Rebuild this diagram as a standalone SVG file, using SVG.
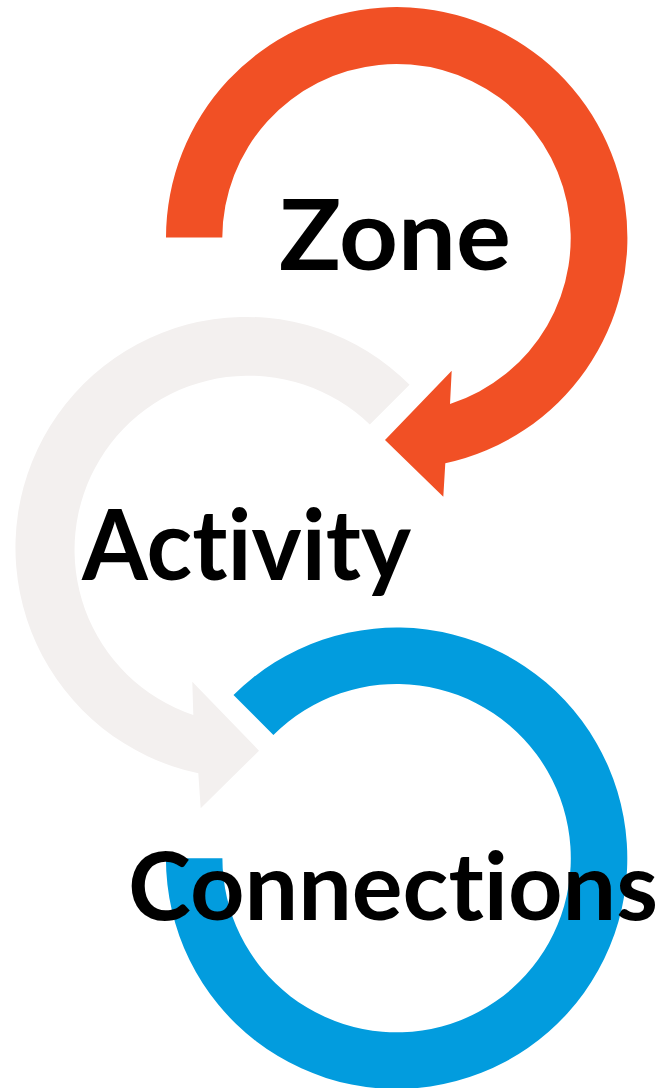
<svg xmlns="http://www.w3.org/2000/svg" width="670" height="1088" viewBox="0 0 670 1088">
<style>
.lbl{font-family:Lato,"Open Sans","Liberation Sans",sans-serif;font-weight:700;font-size:97px;fill:#000;font-variant-ligatures:none;font-feature-settings:"liga" 0,"clig" 0}
</style>
<rect width="670" height="1088" fill="#fff"/>
<g id="connectors">
<path id="arrow-zone" fill="#F15025" d="M166 237.5 A230.7 230.7 0 1 1 445.3 463.3 L443.3 496.7 L385 440 L451.7 370.7 L450 404 A174.2 174.2 0 1 0 222.3 237.5 Z"/>
<path id="arrow-activity" fill="#F3F0EF" d="M409.6 384.8 A230.7 230.7 0 1 0 198.3 773.3 L200.7 808.3 L259 750.7 L192.3 681.7 L193.3 715 A174.2 174.2 0 1 1 369.8 424.6 Z"/>
<path id="ring-connections" fill="#029CDE" d="M233.5 695.1 A230.7 230.7 0 1 1 165.9 858.2 L222.4 858.2 A174.2 174.2 0 1 0 273.4 735 Z"/>
</g>
<g id="node-zone"><text class="lbl" x="279" y="270" textLength="232" lengthAdjust="spacingAndGlyphs">Zone</text></g>
<g id="node-activity"><text class="lbl" x="82" y="580" textLength="329" lengthAdjust="spacingAndGlyphs">Activity</text></g>
<g id="node-connections"><text class="lbl" x="128" y="920" style="font-size:94px" textLength="530" lengthAdjust="spacingAndGlyphs">Connections</text></g>
</svg>
